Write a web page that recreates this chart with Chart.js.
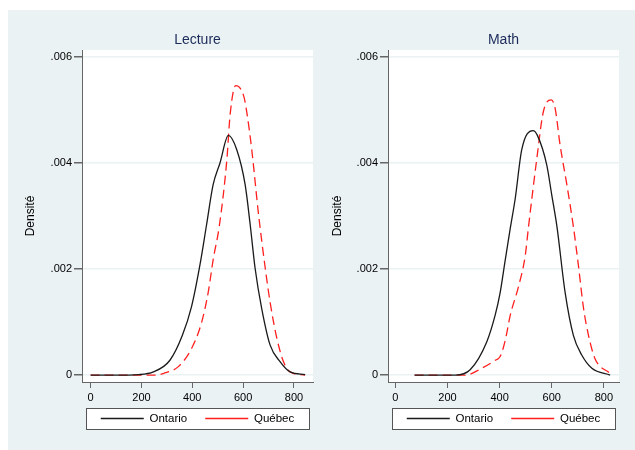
<!DOCTYPE html>
<html>
<head>
<meta charset="utf-8">
<script src="https://cdn.jsdelivr.net/npm/chart.js@4/dist/chart.umd.min.js"></script>
<style>
    html, body { margin: 0; padding: 0; background: #fff; }
    #bg { position: absolute; left: 8px; top: 10px; width: 627px; height: 440px; background: #eaf2f3; }
    .panel { position: absolute; top: 10px; height: 440px; }
    #left { left: 8px; width: 307px; }
    #right { left: 315px; width: 320px; }
</style>
</head>
<body>
<div id="bg"></div>
<div class="panel" id="left"><canvas id="lectureChart"></canvas></div>
<div class="panel" id="right"><canvas id="mathChart"></canvas></div>
<script>
// Series labels
const seriesNames = ["Ontario", "Québec"];
const panelTitles = ["Lecture", "Math"];
const yAxisTitle = "Densité";

// Lecture - Ontario density
const lectureOntX = [0, 100, 190, 247, 312, 361, 397, 431, 456, 482, 509, 542, 575, 608, 628, 647, 673, 706, 746, 785, 844];
const lectureOntY = [0, 0, 0.00001, 0.00006, 0.00028, 0.00075, 0.00129, 0.0021, 0.00283, 0.00359, 0.004, 0.00452, 0.00425, 0.00359, 0.00283, 0.00202, 0.00126, 0.00057, 0.00025, 0.00006, 0.00001];

// Lecture - Québec density
const lectureQueX = [0, 100, 200, 260, 286, 345, 398, 437, 463, 483, 506, 536, 549, 571, 603, 615, 634, 660, 687, 706, 733, 759, 785, 844];
const lectureQueY = [0, 0, 0, 0, 0.00003, 0.00016, 0.00051, 0.001, 0.00157, 0.0022, 0.0028, 0.00406, 0.00492, 0.00546, 0.00525, 0.00494, 0.00425, 0.00306, 0.00202, 0.00138, 0.00069, 0.00025, 0.00006, 0];

// Math - Ontario density
const mathOntX = [74, 150, 230, 287, 351, 383, 402, 421, 441, 460, 485, 528, 545, 581, 600, 620, 651, 683, 715, 754, 824];
const mathOntY = [0, 0, 0, 0.0001, 0.00063, 0.00113, 0.00155, 0.00215, 0.00277, 0.00333, 0.00425, 0.00461, 0.00452, 0.00396, 0.0034, 0.0028, 0.00157, 0.00075, 0.00038, 0.00013, 0];

// Math - Québec density
const mathQueX = [74, 150, 268, 332, 383, 402, 421, 441, 472, 498, 511, 543, 568, 598, 613, 632, 658, 683, 702, 722, 741, 766, 824];
const mathQueY = [0, 0, 0, 0.00013, 0.00028, 0.00035, 0.00064, 0.00113, 0.00166, 0.00224, 0.0028, 0.00409, 0.00497, 0.00519, 0.00503, 0.00434, 0.00359, 0.0028, 0.00208, 0.00126, 0.00075, 0.00031, 0.00003];

// Axis ticks
const xTicks = [0, 200, 400, 600, 800];
const yTicks = [0, 0.002, 0.004, 0.006];

Chart.defaults.font.family = '"Liberation Sans", Arial, Helvetica, sans-serif';
Chart.defaults.color = '#000';

const axisColor = '#666';
const gridColor = '#eaf2f3';
const legendPad = 18;
const legendFont = 11.5;
const legendRowOffset = 36.5; // legend row centre below the plot region

const toPoints = (xs, ys) => xs.map((x, i) => ({ x: x, y: ys[i] }));

// white plot region + framed legend box; legend pulled up under the axis
const panelBg = {
    id: 'panelBg',
    afterLayout(chart) {
        const lg = chart.legend;
        const top = chart.chartArea.bottom + legendRowOffset - legendPad - legendFont / 2;
        const h = lg.height;
        lg.top = top;
        lg.bottom = top + h;
    },
    beforeDraw(chart) {
        const { ctx, chartArea } = chart;
        ctx.save();
        ctx.fillStyle = '#fff';
        ctx.fillRect(chartArea.left, chartArea.top, chartArea.right - chartArea.left, chartArea.bottom - chartArea.top);

        const cy = chartArea.bottom + legendRowOffset;
        const bx = Math.round(chartArea.left + 4);
        const bw = Math.round(chartArea.right - chartArea.left - 8);
        const by = Math.round(cy - 10.5);
        ctx.fillRect(bx, by, bw, 21);
        ctx.strokeStyle = '#555';
        ctx.lineWidth = 1;
        ctx.strokeRect(bx + 0.5, by + 0.5, bw, 21);
        ctx.restore();
    }
};

function makeChart(canvasId, title, ontX, ontY, queX, queY, xMin, xMax, yWidth, padRight) {
    const ctx = document.getElementById(canvasId);
    return new Chart(ctx, {
        type: 'line',
        data: {
            datasets: [{
                label: seriesNames[0],
                data: toPoints(ontX, ontY),
                borderColor: '#1a1a1a',
                borderWidth: 1.3,
                pointRadius: 0,
                cubicInterpolationMode: 'monotone'
            }, {
                label: seriesNames[1],
                data: toPoints(queX, queY),
                borderColor: '#ff1f1f',
                borderWidth: 1.3,
                borderDash: [9, 5],
                pointRadius: 0,
                cubicInterpolationMode: 'monotone'
            }]
        },
        options: {
            responsive: true,
            maintainAspectRatio: false,
            animation: false,
            devicePixelRatio: 1,
            layout: { padding: { left: 0, right: padRight, top: 0, bottom: 6 } },
            plugins: {
                tooltip: { enabled: false },
                title: {
                    display: true,
                    text: title,
                    fullSize: false,
                    color: '#1c2b5a',
                    font: { size: 14, weight: 'normal' },
                    padding: { top: 21.6, bottom: 1.6 }
                },
                legend: {
                    position: 'bottom',
                    fullSize: false,
                    labels: {
                        usePointStyle: true,
                        pointStyle: 'line',
                        pointStyleWidth: 43,
                        padding: legendPad,
                        color: '#000',
                        font: { size: legendFont }
                    }
                }
            },
            scales: {
                x: {
                    type: 'linear',
                    min: xMin,
                    max: xMax,
                    afterBuildTicks: (scale) => { scale.ticks = xTicks.map(v => ({ value: v })); },
                    afterFit: (scale) => { scale.height = 22.5; },
                    ticks: { padding: 3, maxRotation: 0, font: { size: 11 }, color: '#000' },
                    grid: { drawOnChartArea: false, tickLength: 6, tickColor: axisColor },
                    border: { color: axisColor, width: 1 }
                },
                y: {
                    min: -0.00013,
                    max: 0.00613,
                    afterBuildTicks: (scale) => { scale.ticks = yTicks.map(v => ({ value: v })); },
                    afterFit: (scale) => { scale.width = yWidth; },
                    ticks: {
                        padding: 2,
                        font: { size: 11 },
                        color: '#000',
                        callback: (v) => v === 0 ? '0' : v.toFixed(3).replace(/^0/, '')
                    },
                    grid: { color: gridColor, lineWidth: 1.5, tickLength: 8, tickColor: axisColor },
                    border: { color: axisColor, width: 1 },
                    title: {
                        display: true,
                        text: yAxisTitle,
                        color: '#000',
                        font: { size: 12 },
                        padding: { top: 15, bottom: 0 }
                    }
                }
            }
        },
        plugins: [panelBg]
    });
}

makeChart('lectureChart', panelTitles[0], lectureOntX, lectureOntY, lectureQueX, lectureQueY, -34, 875, 74, 2);
makeChart('mathChart', panelTitles[1], mathOntX, mathOntY, mathQueX, mathQueY, -28, 858, 73, 16);
</script>
</body>
</html>
